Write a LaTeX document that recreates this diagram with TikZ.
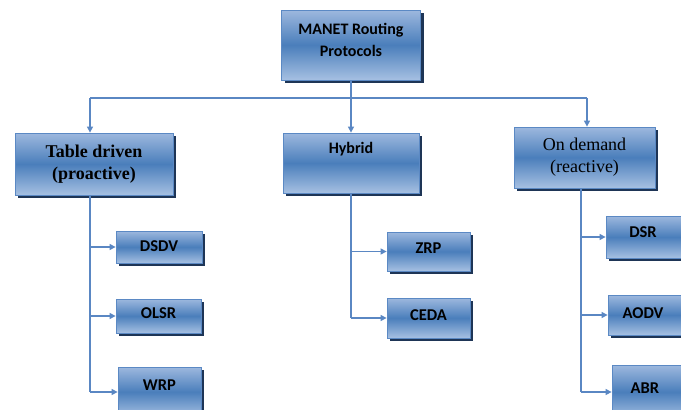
\documentclass[tikz,border=0pt]{standalone}
\usepackage{fontspec}
\setmainfont{Liberation Serif}
\newfontfamily\calib{Carlito}
\usetikzlibrary{shadows,arrows.meta}
\definecolor{boxmid}{HTML}{4A7EBB}
\definecolor{boxtop}{HTML}{9DB8DE}
\definecolor{boxbot}{HTML}{A6C0E2}
\definecolor{boxedge}{HTML}{5B89C4}
\definecolor{shade}{HTML}{1E3556}
\definecolor{wire}{HTML}{5A87C3}
\tikzset{
  box/.style={rectangle, draw=boxedge, line width=0.8pt,
    top color=boxtop, bottom color=boxbot, middle color=boxmid,
    drop shadow={shadow xshift=3pt, shadow yshift=-3pt, fill=shade, opacity=1},
    inner sep=0pt, align=center, text=black},
  leaf/.style={box, font=\calib\bfseries\fontsize{16.5}{19}\selectfont},
  wireline/.style={draw=wire, line width=1.3pt},
  arr/.style={wireline, -{Triangle[length=6pt,width=6pt]}}
}
\begin{document}
\begin{tikzpicture}[x=1pt,y=-1pt]
\useasboundingbox (0,0) rectangle (681,410);
\clip (0,0) rectangle (681,410);
\fill[white] (0,0) rectangle (681,410);

% root and first level
\node[box, minimum width=139pt, minimum height=70pt, text depth=10pt,
  font=\calib\bfseries\fontsize{16}{22}\selectfont] (root) at (351,45) {MANET Routing\\Protocols};
\node[box, minimum width=158pt, minimum height=62pt,
  font=\bfseries\fontsize{18}{22}\selectfont] (td) at (94,164) {Table driven\\(proactive)};
\node[box, minimum width=136pt, minimum height=60pt, text depth=30pt,
  font=\calib\bfseries\fontsize{16}{19}\selectfont] (hy) at (351,163) {Hybrid};
\node[box, minimum width=141pt, minimum height=61pt,
  font=\fontsize{18}{22}\selectfont] (od) at (584.5,157.5) {On demand\\(reactive)};

% second level
\node[leaf, minimum width=86pt, minimum height=32pt, text depth=2pt] (dsdv) at (159,247) {DSDV};
\node[leaf, minimum width=85pt, minimum height=34pt, text depth=6pt] (olsr) at (158.5,316) {OLSR};
\node[leaf, minimum width=83pt, minimum height=50pt, text depth=14pt] (wrp) at (159.5,392) {WRP};
\node[leaf, minimum width=83pt, minimum height=39pt, text depth=6pt] (zrp) at (428.5,251.5) {ZRP};
\node[leaf, minimum width=83pt, minimum height=40pt, text depth=6pt] (ceda) at (428.5,318) {CEDA};
% the right column runs past the page edge; labels are pulled left
\node[leaf, minimum width=84pt, minimum height=42pt, text depth=10pt] (dsr) at (648,237) {\hspace*{-10pt}DSR};
\node[leaf, minimum width=84pt, minimum height=40pt, text depth=4pt] (aodv) at (650,315) {\hspace*{-14pt}AODV};
\node[leaf, minimum width=84pt, minimum height=54pt, text depth=8pt] (abr) at (654,392) {\hspace*{-18pt}ABR};

% bus from the root
\coordinate (bus) at (351,98);
\coordinate (tdx) at (90,0);
\coordinate (odx) at (587,0);
\coordinate (odv) at (581,0);
\draw[wireline] (root.south) -- (bus);
\draw[wireline] (tdx |- bus) -- (odx |- bus);
\draw[arr] (tdx |- bus) -- (tdx |- td.north);
\draw[arr] (bus) -- (hy.north);
\draw[arr] (odx |- bus) -- (odx |- od.north);

% table driven branch
\draw[wireline] (tdx |- td.south) -- (tdx |- wrp.west);
\draw[arr] (tdx |- dsdv.west) -- (dsdv.west);
\draw[arr] (tdx |- olsr.west) -- (olsr.west);
\draw[arr] (tdx |- wrp.west) -- (wrp.west);

% hybrid branch
\draw[wireline] (hy.south) -- (hy.south |- ceda.west);
\draw[arr] (hy.south |- zrp.west) -- (zrp.west);
\draw[arr] (hy.south |- ceda.west) -- (ceda.west);

% on demand branch
\draw[wireline] (odv |- od.south) -- (odv |- abr.west);
\draw[arr] (odv |- dsr.west) -- (dsr.west);
\draw[arr] (odv |- aodv.west) -- (aodv.west);
\draw[arr] (odv |- abr.west) -- (abr.west);
\end{tikzpicture}
\end{document}
